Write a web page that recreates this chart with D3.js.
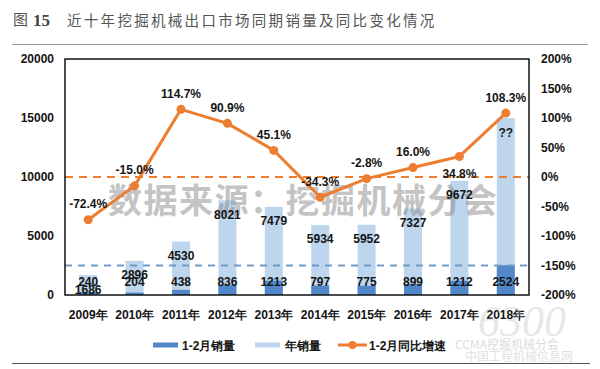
<!DOCTYPE html>
<html><head><meta charset="utf-8">
<script src="https://cdn.jsdelivr.net/npm/d3@7"></script>
<style>body{margin:0;background:#fff}svg{display:block}</style>
</head><body>
<svg id="chart" width="600" height="369"></svg>
<script>
// ---- data ----
const years = ["2009年","2010年","2011年","2012年","2013年","2014年","2015年","2016年","2017年","2018年"];
const annualSales = [1686, 2896, 4530, 8021, 7479, 5934, 5952, 7327, 9672, 15000];
const annualLabels = ["1686","2896","4530","8021","7479","5934","5952","7327","9672","??"];
const janFebSales = [240, 204, 438, 836, 1213, 797, 775, 899, 1212, 2524];
const yoyGrowth = [-72.4, -15.0, 114.7, 90.9, 45.1, -34.3, -2.8, 16.0, 34.8, 108.3];
const leftTicks = [0, 5000, 10000, 15000, 20000];
const rightTicks = [-200, -150, -100, -50, 0, 50, 100, 150, 200];
const legendLabels = ["1-2月销量", "年销量", "1-2月同比增速"];
const refSales = 2500;   // blue dashed reference
const refGrowth = 0;     // orange dashed reference
const titleText = "近十年挖掘机械出口市场同期销量及同比变化情况";
const watermark = "数据来源：挖掘机械分会";

// ---- layout ----
const svg = d3.select("#chart");
const L = 65, R = 529, T = 59, B = 295;
const C = { dark: "#5288c9", light: "#bdd6ee", orange: "#ED7D31", blueDash: "#6f9cc6", text: "#141414" };
const F = "'Liberation Sans', Arial, sans-serif";

const x = d3.scaleBand().domain(years).range([L, R]).padding(0);
const yL = d3.scaleLinear().domain([0, 20000]).range([B, T]);
const yR = d3.scaleLinear().domain([-200, 200]).range([B, T]);
const barW = 18;
const cx = d => x(d) + x.bandwidth() / 2;

// title
svg.append("text").attr("x", 13).attr("y", 25).attr("fill", "#555")
  .style("font-family", "'Noto Sans CJK SC', sans-serif").style("font-size","15px").text("图");
svg.append("text").attr("x", 33).attr("y", 26).attr("fill", "#444")
  .style("font-family", "'Liberation Serif', serif").style("font-size", "17px").style("font-weight", "bold")
  .text("15");
svg.append("text").attr("x", 67).attr("y", 26).attr("fill", "#555")
  .style("font-family", "'Noto Sans CJK SC', sans-serif").style("font-size", "14.5px")
  .style("letter-spacing", "2.3px").text(titleText);
svg.append("line").attr("x1", 12).attr("x2", 588).attr("y1", 44.5).attr("y2", 44.5)
  .attr("stroke", "#9a9a9a").attr("stroke-width", 1);
svg.append("line").attr("x1", 12).attr("x2", 590).attr("y1", 363.5).attr("y2", 363.5)
  .attr("stroke", "#555").attr("stroke-width", 1.2);

// bars
svg.append("g").selectAll("rect").data(years).join("rect")
  .attr("x", d => cx(d) - barW / 2).attr("width", barW)
  .attr("y", (d, i) => yL(annualSales[i])).attr("height", (d, i) => B - yL(annualSales[i]))
  .attr("fill", C.light);
svg.append("g").selectAll("rect").data(years).join("rect")
  .attr("x", d => cx(d) - barW / 2).attr("width", barW)
  .attr("y", (d, i) => yL(janFebSales[i])).attr("height", (d, i) => B - yL(janFebSales[i]))
  .attr("fill", C.dark);

// dashed refs
svg.append("line").attr("x1", L).attr("x2", R).attr("y1", yL(refSales)).attr("y2", yL(refSales))
  .attr("stroke", C.blueDash).attr("stroke-width", 2).attr("stroke-dasharray", "7,6");
svg.append("line").attr("x1", L).attr("x2", R).attr("y1", yR(refGrowth)).attr("y2", yR(refGrowth))
  .attr("stroke", C.orange).attr("stroke-width", 2).attr("stroke-dasharray", "8,6");

// watermark
svg.append("text").attr("x", 108).attr("y", 213).attr("fill", "#8a8a8a").attr("opacity", 0.5)
  .style("font-family", "'Noto Sans CJK SC', sans-serif").style("font-size", "34px").style("font-weight", "bold")
  .style("letter-spacing", "1.5px").text(watermark);

// frame
svg.append("rect").attr("x", L).attr("y", T).attr("width", R - L).attr("height", B - T)
  .attr("fill", "none").attr("stroke", "#111").attr("stroke-width", 1.5);

// axes
const axL = svg.append("g").attr("transform", `translate(${L},0)`)
  .call(d3.axisLeft(yL).tickValues(leftTicks).tickSize(0).tickPadding(11).tickFormat(d3.format("d")));
const axR = svg.append("g").attr("transform", `translate(${R},0)`)
  .call(d3.axisRight(yR).tickValues(rightTicks).tickSize(0).tickPadding(12).tickFormat(d => d + "%"));
const axX = svg.append("g").attr("transform", `translate(0,${B})`)
  .call(d3.axisBottom(x).tickSize(0).tickPadding(15));
[axL, axR, axX].forEach(g => {
  g.select(".domain").remove();
  g.selectAll("text").attr("fill", C.text).style("font-family", F).style("font-size", "12px").style("font-weight", "bold");
});

// line
const line = d3.line().x((d, i) => cx(years[i])).y(d => yR(d));
svg.append("path").datum(yoyGrowth).attr("d", line).attr("fill", "none")
  .attr("stroke", C.orange).attr("stroke-width", 3).attr("stroke-linejoin", "round");
svg.append("g").selectAll("circle").data(yoyGrowth).join("circle")
  .attr("cx", (d, i) => cx(years[i])).attr("cy", d => yR(d)).attr("r", 4.5).attr("fill", C.orange);

// labels
const lab = g => g.attr("text-anchor", "middle").attr("fill", C.text)
  .style("font-family", F).style("font-size", "12px").style("font-weight", "bold");
svg.append("g").selectAll("text").data(annualLabels).join("text").call(lab)
  .attr("x", (d, i) => cx(years[i])).attr("y", (d, i) => yL(annualSales[i]) + 18.5).text(d => d);
svg.append("g").selectAll("text").data(janFebSales).join("text").call(lab)
  .attr("x", (d, i) => cx(years[i])).attr("y", B - 9).text(d => d);
svg.append("g").selectAll("text").data(yoyGrowth).join("text").call(lab)
  .attr("x", (d, i) => cx(years[i]))
  .attr("y", (d, i) => yR(d) + (i === 8 ? 22 : -11.5))
  .text(d => d.toFixed(1) + "%");

// legend
const lg = svg.append("g").style("font-family", F).style("font-size", "12px").style("font-weight", "bold");
lg.append("rect").attr("x", 153).attr("y", 342.5).attr("width", 25).attr("height", 5).attr("fill", C.dark);
lg.append("text").attr("x", 182).attr("y", 349.5).attr("fill", C.text).text(legendLabels[0]);
lg.append("rect").attr("x", 255).attr("y", 342.5).attr("width", 25).attr("height", 5).attr("fill", C.light);
lg.append("text").attr("x", 285).attr("y", 349.5).attr("fill", C.text).text(legendLabels[1]);
lg.append("line").attr("x1", 338).attr("x2", 367).attr("y1", 345).attr("y2", 345).attr("stroke", C.orange).attr("stroke-width", 3);
lg.append("circle").attr("cx", 352.5).attr("cy", 345).attr("r", 4).attr("fill", C.orange);
lg.append("text").attr("x", 369).attr("y", 349.5).attr("fill", C.text).text(legendLabels[2]);

// site watermark (bottom right)
const wm = svg.append("g").attr("opacity", 0.35);
wm.append("text").attr("x", 478).attr("y", 336).attr("fill", "#bbb").style("font-family", "'Liberation Serif', serif")
  .style("font-style", "italic").style("font-size", "44px").text("6300");
wm.append("text").attr("x", 455).attr("y", 349).attr("fill", "#999").style("font-family", "'Noto Sans CJK SC', sans-serif")
  .style("font-size", "12px").text("CCMA挖掘机械分会");
wm.append("text").attr("x", 465).attr("y", 361).attr("fill", "#aaa").style("font-family", "'Noto Sans CJK SC', sans-serif")
  .style("font-size", "12px").text("中国工程机械信息网");
</script>
</body></html>
